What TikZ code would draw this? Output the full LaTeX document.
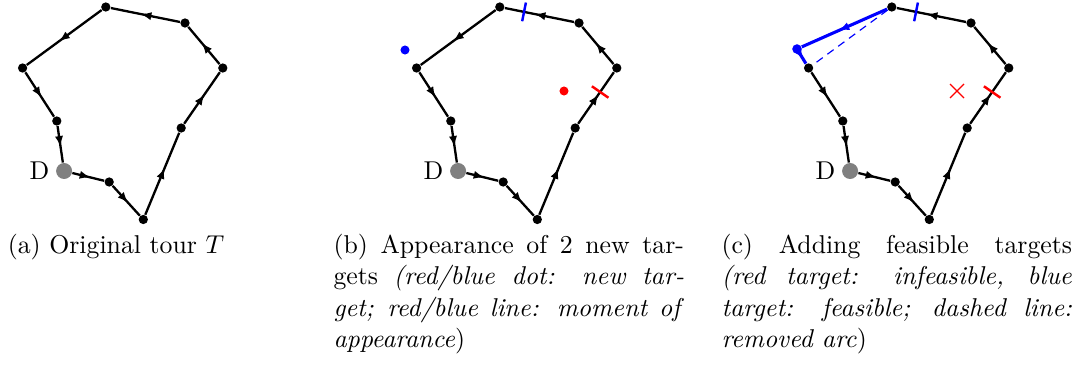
\documentclass[tikz,border=0pt]{standalone}
\usetikzlibrary{arrows.meta,decorations.markings,calc}
\tikzset{
  dot/.style={circle,fill=black,inner sep=0pt,minimum size=3.6pt},
  newdot/.style={circle,inner sep=0pt,minimum size=3.5pt},
  depot/.style={circle,fill=gray,inner sep=0pt,minimum size=6.2pt,
    label={[inner sep=0pt,label distance=2.2pt]left:D}},
  tourarc/.style={line width=0.9pt,postaction={decorate},
    decoration={markings,mark=at position 0.57 with {\arrow{Latex[length=4.2pt,width=3.2pt]}}}},
  tickmark/.style={line width=0.95pt},
  captext/.style={anchor=base west,inner sep=0pt,font=\normalsize},
}
\newcommand\drawtour[2]{%
  \node[dot] (#1top) at (#2+105.8,7) {};
  \node[dot] (#1ur) at (#2+185,23) {};
  \node[dot] (#1r) at (#2+222.8,68) {};
  \node[dot] (#1lr) at (#2+181.2,128) {};
  \node[dot] (#1b) at (#2+143.3,219.5) {};
  \node[dot] (#1dr) at (#2+109.2,182) {};
  \node[depot] (#1d) at (#2+64.1,171) {};
  \node[dot] (#1ll) at (#2+56.8,121) {};
  \node[dot] (#1l) at (#2+22.6,68) {};
  \draw[tourarc] (#1d) -- (#1dr);
  \draw[tourarc] (#1dr) -- (#1b);
  \draw[tourarc] (#1b) -- (#1lr);
  \draw[tourarc] (#1lr) -- (#1r);
  \draw[tourarc] (#1r) -- (#1ur);
  \draw[tourarc] (#1ur) -- (#1top);
  \draw[tourarc] (#1l) -- (#1ll);
  \draw[tourarc] (#1ll) -- (#1d);
}
\begin{document}
\begin{tikzpicture}[x=0.388pt,y=-0.388pt]
\useasboundingbox (0,0) rectangle (1073,365);
% (a)
\drawtour{a}{0}
\draw[tourarc] (atop) -- (al);
% (b)
\drawtour{b}{394}
\draw[tourarc] (btop) -- (bl);
\node[newdot,fill=blue] (bblue) at (405,50) {};
\node[newdot,fill=red] (bred) at (564,91) {};
\coordinate (bbt) at ($(btop)!0.306!(bur)$);
\draw[tickmark,blue] ($(bbt)!3.7pt!90:(bur)$) -- ($(bbt)!3.7pt!-90:(bur)$);
\coordinate (brt) at ($(br)!0.4!(blr)$);
\draw[tickmark,red] ($(brt)!3.9pt!90:(blr)$) -- ($(brt)!3.9pt!-90:(blr)$);
% (c)
\drawtour{c}{786}
\node[newdot,fill=blue,minimum size=3.7pt] (cblue) at (797,49) {};
\draw[tourarc,blue,line width=1.2pt] (ctop) -- (cblue);
\draw[tourarc,blue,line width=1.2pt] (cblue) -- (cl);
\draw[blue,line width=0.45pt,dash pattern=on 3pt off 2.2pt] (ctop) -- (cl);
\coordinate (cbt) at ($(ctop)!0.306!(cur)$);
\draw[tickmark,blue] ($(cbt)!3.7pt!90:(cur)$) -- ($(cbt)!3.7pt!-90:(cur)$);
\coordinate (crt) at ($(cr)!0.4!(clr)$);
\draw[tickmark,red] ($(crt)!3.9pt!90:(clr)$) -- ($(crt)!3.9pt!-90:(clr)$);
\coordinate (cx) at (957,91);
\draw[red,line width=0.45pt] ($(cx)+(-7,-7)$) -- ($(cx)+(7,7)$);
\draw[red,line width=0.45pt] ($(cx)+(-7,7)$) -- ($(cx)+(7,-7)$);
% captions
\node[captext] (capa) at (7.3,253) {(a) Original tour $T$};
\node[captext] (capb1) at (333,253) {\makebox[136pt][s]{(b) Appearance of 2 new tar-}};
\node[captext] (capb2) at (333,284.5) {\makebox[136pt][s]{gets \textit{(red/blue dot: new tar-}}};
\node[captext] (capb3) at (333,316) {\makebox[136pt][s]{\textit{get; red/blue line: moment of}}};
\node[captext] (capb4) at (333,347.5) {\textit{appearance})};
\node[captext] (capc1) at (721,253) {\makebox[136pt][s]{(c) Adding feasible targets}};
\node[captext] (capc2) at (721,284.5) {\makebox[136pt][s]{\textit{(red target: infeasible, blue}}};
\node[captext] (capc3) at (721,316) {\makebox[136pt][s]{\textit{target: feasible; dashed line:}}};
\node[captext] (capc4) at (721,347.5) {\textit{removed arc})};
\end{tikzpicture}
\end{document}
